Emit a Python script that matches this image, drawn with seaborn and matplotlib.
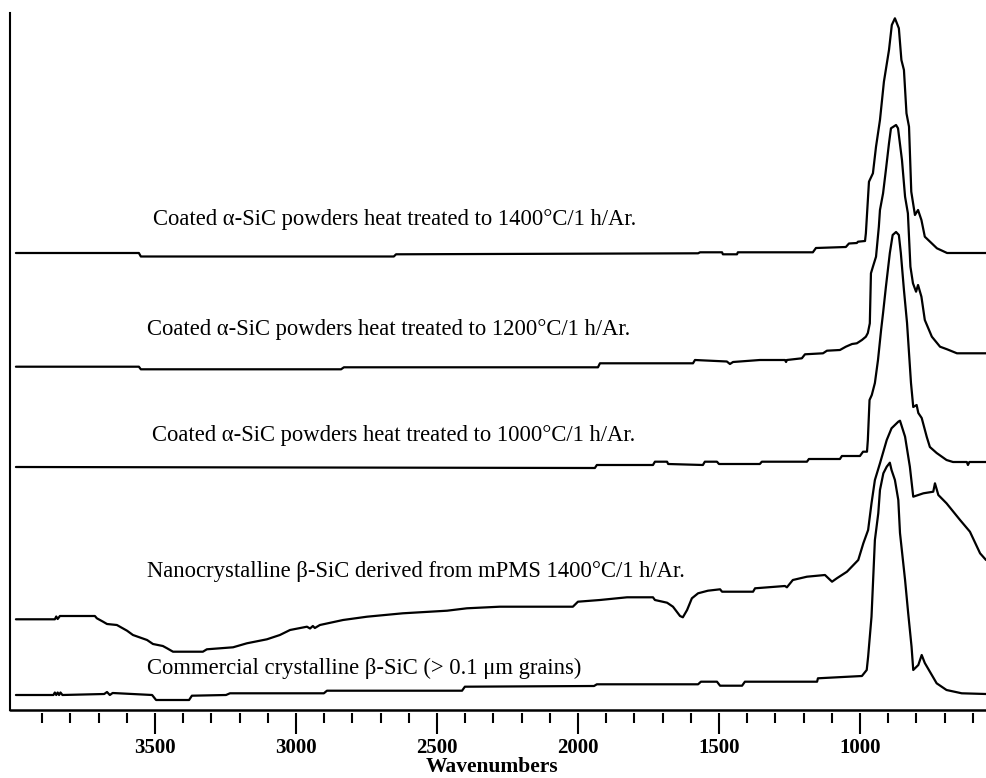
import numpy as np
import pandas as pd
import matplotlib
matplotlib.use("Agg")
import matplotlib.pyplot as plt
from matplotlib.ticker import FixedLocator, FixedFormatter
import seaborn as sns

# ---------------- data ----------------
# Coated alpha-SiC, 1400 C
w_1400 = [3993, 3557, 3550, 2653, 2645, 1574, 1567, 1489, 1486, 1436, 1433, 1167, 1156, 1050, 1039,
          1011, 1007, 982, 979, 968, 954, 943, 929, 915, 897, 887, 876, 862, 853, 844,
          835, 826, 818, 805, 794, 782, 770, 727, 691, 553]
a_1400 = [0, 0, -0.035, -0.035, -0.013, -0.003, 0.007, 0.007, -0.013, -0.013, 0.007, 0.007, 0.05, 0.06, 0.095,
          0.10, 0.113, 0.12, 0.197, 0.713, 0.797, 1.063, 1.33, 1.713, 2.03, 2.28, 2.347, 2.247, 1.93, 1.83,
          1.397, 1.263, 0.613, 0.38, 0.43, 0.33, 0.163, 0.047, 0, 0]

# Coated alpha-SiC, 1200 C
w_1200 = [3993, 3557, 3550, 2840, 2830, 1929, 1922, 1592, 1585, 1472, 1461, 1450, 1436, 1355, 1266,
          1262, 1259, 1206, 1195, 1131, 1117, 1071, 1050, 1028, 1011, 993, 979, 972, 965, 961,
          954, 943, 933, 929, 918, 908, 897, 890, 872, 865, 851, 840, 830, 821, 812,
          801, 794, 782, 770, 745, 716, 691, 656, 553]
a_1200 = [0.003, 0.003, -0.023, -0.023, -0.003, -0.003, 0.037, 0.037, 0.07, 0.055, 0.03, 0.05, 0.053, 0.07, 0.07,
          0.05, 0.07, 0.087, 0.127, 0.137, 0.163, 0.17, 0.203, 0.23, 0.237, 0.27, 0.303, 0.34, 0.437, 0.937,
          1.003, 1.103, 1.403, 1.57, 1.737, 1.97, 2.237, 2.387, 2.42, 2.387, 2.07, 1.703, 1.537, 1.003, 0.837,
          0.753, 0.82, 0.703, 0.47, 0.303, 0.203, 0.177, 0.137, 0.137]

# Coated alpha-SiC, 1000 C
w_1000 = [3993, 1940, 1933, 1734, 1727, 1684, 1680, 1557, 1550, 1507, 1500, 1355, 1348, 1188, 1181,
          1071, 1064, 1000, 989, 975, 972, 966, 958, 947, 936, 925, 918, 908, 894, 884,
          872, 862, 855, 844, 833, 819, 811, 799, 793, 781, 763, 752, 728, 693, 670,
          621, 617, 612, 553]
a_1000 = [0, -0.01, 0.02, 0.02, 0.053, 0.053, 0.03, 0.02, 0.053, 0.053, 0.03, 0.03, 0.053, 0.053, 0.08,
          0.08, 0.11, 0.11, 0.153, 0.153, 0.27, 0.67, 0.72, 0.84, 1.07, 1.37, 1.54, 1.80, 2.14, 2.32,
          2.35, 2.32, 2.14, 1.77, 1.44, 0.84, 0.60, 0.62, 0.54, 0.49, 0.30, 0.20, 0.14, 0.07, 0.05,
          0.05, 0.02, 0.05, 0.05]

# Nanocrystalline beta-SiC from mPMS, 1400 C
w_nano = [3993, 3855, 3850, 3845, 3837, 3713, 3706, 3684, 3670, 3635, 3599, 3578, 3528, 3507, 3472,
          3457, 3436, 3330, 3316, 3223, 3174, 3103, 3057, 3021, 2961, 2950, 2940, 2933, 2915, 2833,
          2748, 2621, 2464, 2394, 2277, 2018, 2000, 1922, 1826, 1734, 1727, 1684, 1663, 1638, 1628,
          1613, 1596, 1574, 1539, 1496, 1489, 1379, 1372, 1266, 1259, 1238, 1188, 1124, 1099, 1082,
          1046, 1006, 988, 971, 959, 947, 929, 905, 888, 864, 858, 840, 823, 811, 775,
          740, 734, 722, 693, 645, 610, 574, 553]
a_nano = [-0.003, -0.003, 0.025, 0.0, 0.03, 0.03, 0.007, -0.027, -0.05, -0.06, -0.117, -0.16, -0.21, -0.25, -0.27,
          -0.293, -0.327, -0.327, -0.303, -0.283, -0.243, -0.203, -0.16, -0.11, -0.077, -0.095, -0.07, -0.09, -0.06, -0.01,
          0.023, 0.057, 0.083, 0.107, 0.123, 0.123, 0.173, 0.19, 0.217, 0.217, 0.19, 0.163, 0.123, 0.03, 0.017,
          0.09, 0.207, 0.257, 0.283, 0.297, 0.273, 0.273, 0.307, 0.33, 0.317, 0.39, 0.423, 0.44, 0.373, 0.407,
          0.473, 0.59, 0.757, 0.89, 1.157, 1.39, 1.557, 1.79, 1.907, 1.973, 1.983, 1.823, 1.523, 1.223, 1.257,
          1.273, 1.357, 1.24, 1.157, 0.99, 0.873, 0.657, 0.59]

# Commercial crystalline beta-SiC
w_comm = [3993, 3860, 3855, 3850, 3845, 3840, 3835, 3828, 3680, 3670, 3660, 3650, 3510, 3496, 3379,
          3369, 3248, 3234, 2901, 2890, 2411, 2401, 1943, 1933, 1574, 1564, 1507, 1496, 1418, 1408,
          1152, 1149, 993, 976, 971, 959, 947, 935, 929, 917, 905, 894, 888, 876, 864,
          858, 840, 829, 817, 811, 793, 781, 770, 752, 728, 693, 639, 553]
a_comm = [0, 0, 0.025, 0, 0.025, 0, 0.025, 0, 0.01, 0.03, 0, 0.02, 0, -0.05, -0.05,
          -0.007, 0, 0.017, 0.017, 0.043, 0.043, 0.083, 0.09, 0.107, 0.107, 0.133, 0.133, 0.093, 0.093, 0.133,
          0.133, 0.167, 0.19, 0.25, 0.383, 0.783, 1.55, 1.817, 2.05, 2.217, 2.283, 2.323, 2.25, 2.15, 1.95,
          1.62, 1.15, 0.82, 0.483, 0.25, 0.30, 0.40, 0.32, 0.233, 0.117, 0.05, 0.017, 0.01]

labels = [
    "Coated \u03b1-SiC powders heat treated to 1400\u00b0C/1 h/Ar.",
    "Coated \u03b1-SiC powders heat treated to 1200\u00b0C/1 h/Ar.",
    "Coated \u03b1-SiC powders heat treated to 1000\u00b0C/1 h/Ar.",
    "Nanocrystalline \u03b2-SiC derived from mPMS 1400\u00b0C/1 h/Ar.",
    "Commercial crystalline \u03b2-SiC (> 0.1 \u03bcm grains)",
]
major_ticks = [3500, 3000, 2500, 2000, 1500, 1000]
major_labels = ["3500", "3000", "2500", "2000", "1500", "1000"]
minor_ticks = [3900, 3800, 3700, 3600, 3400, 3300, 3200, 3100, 2900, 2800, 2700, 2600,
               2400, 2300, 2200, 2100, 1900, 1800, 1700, 1600, 1400, 1300, 1200, 1100,
               900, 800, 700, 600]

# ---------------- layout ----------------
offsets = [4.57, 3.43, 2.43, 0.91, 0.15]
label_xy = [(3507, 4.91), (3528, 3.80), (3511, 2.74), (3528, 1.38), (3528, 0.42)]

sns.set_theme(style="white")
plt.rcParams['font.family'] = ['Liberation Serif', 'DejaVu Serif']
plt.rcParams['text.color'] = 'black'
plt.rcParams['axes.labelcolor'] = 'black'
plt.rcParams['xtick.color'] = 'black'

fig = plt.figure(figsize=(9.86, 7.78), dpi=100)
ax = fig.add_axes([10 / 986, 68 / 778, 976 / 986, 697 / 778])

spectra = [(w_1400, a_1400), (w_1200, a_1200), (w_1000, a_1000), (w_nano, a_nano), (w_comm, a_comm)]
for (w, a), off in zip(spectra, offsets):
    df = pd.DataFrame({"wavenumber": w, "absorbance": np.asarray(a) + off})
    sns.lineplot(data=df, x="wavenumber", y="absorbance", color="black", linewidth=1.6,
                 estimator=None, sort=False, ax=ax)

for (tx, ty), lab in zip(label_xy, labels):
    ax.text(tx, ty, lab, fontsize=16.3, ha="left", va="center", color="black")

ax.set_xlim(4014, 553)
ax.set_ylim(0, 6.97)
ax.set_yticks([])
ax.set_ylabel("")

ax.xaxis.set_major_locator(FixedLocator(major_ticks))
ax.xaxis.set_major_formatter(FixedFormatter(major_labels))
ax.xaxis.set_minor_locator(FixedLocator(minor_ticks))
ax.tick_params(axis="x", which="major", length=15, width=1.5, direction="out", pad=3,
               bottom=True, labelsize=15)
ax.tick_params(axis="x", which="minor", length=7.5, width=1.5, direction="out", bottom=True)
ax.set_xlabel("Wavenumbers", fontsize=15.5, fontweight="bold")
ax.xaxis.set_label_coords(0.499, 6.0 / 778, transform=fig.transFigure)
ax.xaxis.label.set_verticalalignment("baseline")

for s in ["top", "right"]:
    ax.spines[s].set_visible(False)
ax.spines["left"].set_linewidth(1.5)
ax.spines["left"].set_color("black")
ax.spines["bottom"].set_position(("outward", 2.5))
ax.spines["bottom"].set_color("none")
ax.axhline(0, color="black", linewidth=1.8, clip_on=False)

fig.canvas.draw()
for t in ax.xaxis.get_majorticklabels():
    t.set_fontweight("bold")
    t.set_fontsize(15)

fig.savefig("out.png", dpi=100)
